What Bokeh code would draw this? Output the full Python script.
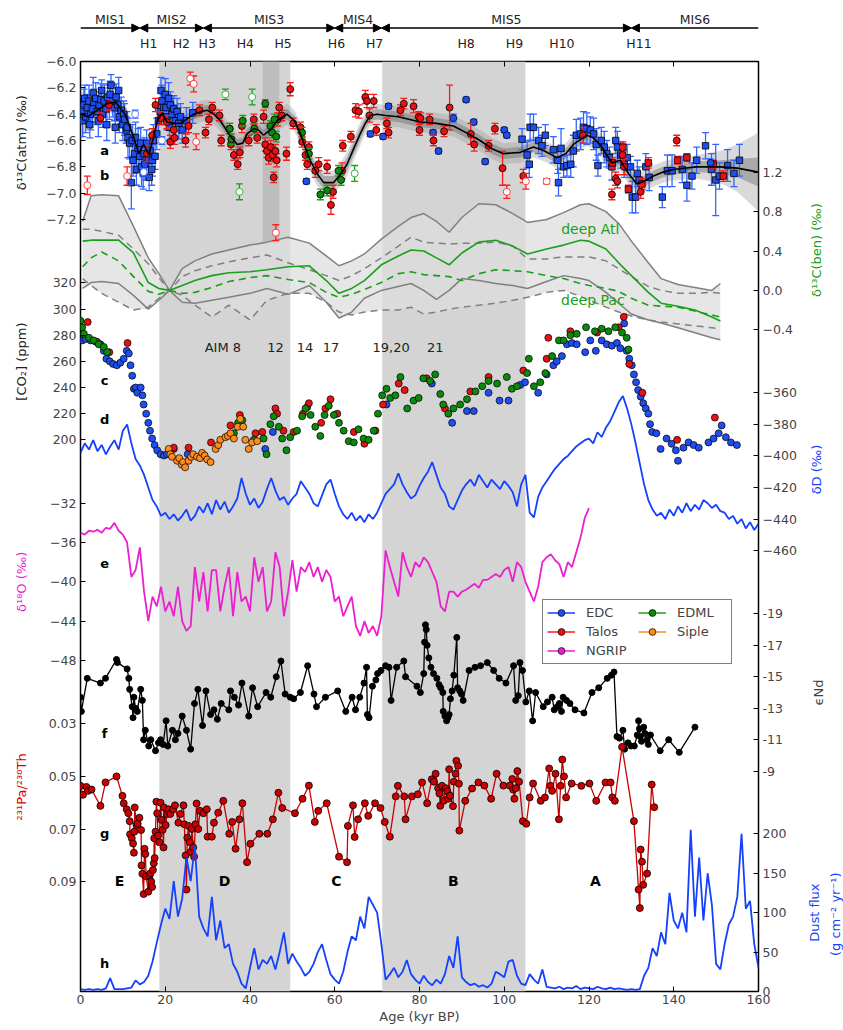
import numpy as np
from math import pi
from bokeh.plotting import figure
from bokeh.layouts import column, row
from bokeh.models import (Range1d, LinearAxis, FixedTicker, BoxAnnotation,
                          Arrow, NormalHead, Legend, LegendItem)
from bokeh.core.properties import value
from bokeh.embed import file_html
from bokeh.resources import INLINE

FONT = "DejaVu Sans"
BLUE = "#1440ff"
BLUE_F = "#1f4ef0"
BLUE_E = "#3366ff"
RED = "#ff1a1a"
RED_F = "#e81010"
GREEN_F = "#0a8a0a"
GREEN_E = "#1aa01a"
GREEN_L = "#1a9f1a"
MAGENTA = "#ec1fcf"
ORANGE = "#ff8c1a"
DKRED = "#cc0000"
GRAY = "#808080"

# ---------------- data ----------------
age_ticks = [0, 20, 40, 60, 80, 100, 120, 140, 160]
mis_bounds = [0, 14, 29, 60, 71, 130, 160]
mis_names = ["MIS1", "MIS2", "MIS3", "MIS4", "MIS5", "MIS6"]
h_ages = [16.1, 23.8, 29.9, 38.9, 47.8, 60.4, 69.4, 91.0, 102.4, 113.6, 131.8]
h_names = ["H1", "H2", "H3", "H4", "H5", "H6", "H7", "H8", "H9", "H10", "H11"]
stadials = [(18.6, 49.5), (71.2, 105.0)]
h4_box = (43.0, 46.9, -7.38)

# (a) d13C atm : EDC squares
sq_x = [0.3, 0.5, 0.8, 1.0, 1.2, 1.6, 2.0, 2.2, 2.4, 2.8,
        3.0, 3.2, 3.6, 4.0, 4.2, 4.4, 4.8, 5.0, 5.2, 5.6,
        6.0, 6.2, 6.4, 6.8, 7.0, 7.2, 7.6, 8.0, 8.2, 8.4,
        8.8, 9.0, 9.2, 9.6, 10.0, 10.2, 10.4, 10.8, 11.0, 11.2,
        11.6, 12.0, 12.2, 12.4, 12.8, 13.0, 13.2, 13.6, 14.0, 14.2,
        14.4, 14.8, 15.0, 15.2, 15.6, 16.0, 16.2, 16.4, 16.8, 17.0,
        17.2, 17.6, 18.0, 18.4, 18.8, 19.0, 19.2, 19.6, 20.0, 20.2,
        20.4, 20.8, 21.0, 21.2, 21.6, 22.0, 22.4, 22.8, 23.2, 23.6,
        24.0, 25.0, 26.5,
        104.2, 105.4, 105.9, 106.1, 106.9, 108.1, 108.9, 109.7, 111.6, 112.6,
        112.8, 113.4, 114.0, 114.8, 115.7, 116.3, 117.0, 118.0, 118.7, 119.5,
        120.3, 121.1, 121.7, 122.1, 122.9, 123.6, 124.2, 124.8, 125.4, 126.3,
        126.7, 127.5, 128.3, 129.0, 129.8, 130.2, 131.0, 131.4, 131.8, 133.4,
        134.2, 137.3, 138.5, 139.6, 142.0, 143.1, 144.3, 145.4, 147.5, 148.9,
        149.9, 150.8, 152.7, 154.2, 155.5]
sq_y = [-6.37, -6.45, -6.33, -6.28, -6.42, -6.35, -6.30, -6.48, -6.40, -6.36,
        -6.24, -6.31, -6.28, -6.38, -6.45, -6.33, -6.29, -6.22, -6.40, -6.30,
        -6.36, -6.48, -6.27, -6.32, -6.25, -6.18, -6.30, -6.35, -6.50, -6.27,
        -6.33, -6.22, -6.42, -6.37, -6.48, -6.40, -6.44, -6.52, -6.50, -6.58,
        -6.62, -6.92, -6.60, -6.75, -6.70, -6.58, -6.82, -6.66, -6.72, -6.62,
        -6.80, -6.85, -6.70, -6.78, -6.62, -6.74, -6.88, -6.68, -6.82, -6.75,
        -6.60, -6.72, -6.55, -6.45, -6.38, -6.22, -6.30, -6.35, -6.25, -6.35,
        -6.42, -6.28, -6.50, -6.33, -6.40, -6.36, -6.45, -6.38, -6.47, -6.42,
        -6.52, -6.45, -6.39,
        -6.59, -6.71, -6.78, -6.50, -6.50, -6.60, -6.64, -6.56, -6.67, -6.75,
        -6.92, -6.66, -6.80, -6.79, -6.78, -6.68, -6.56, -6.55, -6.50, -6.51,
        -6.52, -6.55, -6.63, -6.79, -6.60, -6.65, -6.70, -6.73, -6.80, -6.60,
        -6.65, -6.71, -6.78, -6.73, -6.80, -7.03, -7.03, -6.85, -6.90, -6.80,
        -6.88, -7.03, -6.83, -6.83, -6.82, -6.94, -6.87, -6.75, -6.64, -6.82,
        -6.90, -6.87, -6.79, -6.85, -6.75]
sq_e = [.10, .12, .12, .10, .12, .10, .12, .10, .12, .10,
        .12, .10, .12, .10, .12, .10, .12, .08, .10, .12,
        .10, .12, .10, .12, .10, .08, .12, .10, .12, .10,
        .12, .10, .12, .10, .12, .10, .12, .10, .12, .15,
        .12, .20, .12, .12, .15, .12, .12, .15, .12, .12,
        .15, .12, .12, .12, .10, .12, .10, .10, .12, .12,
        .12, .10, .12, .12, .10, .10, .12, .10, .12, .10,
        .10, .12, .10, .10, .12, .10, .12, .10, .12, .10,
        .10, .10, .08,
        .08, .10, .10, .10, .10, .10, .08, .08, .10, .10,
        .10, .15, .08, .08, .10, .12, .12, .12, .12, .12,
        .10, .12, .12, .08, .10, .12, .10, .08, .10, .10,
        .12, .10, .10, .10, .08, .12, .12, .10, .10, .10,
        .10, .08, .12, .12, .10, .12, .10, .10, .10, .12,
        .27, .10, .12, .10, .12]

# blue circles
bc_x = [53.3, 68.4, 71.4, 72.7, 83.2, 84.5, 88.0, 91.0, 92.8, 95.5, 100.0, 100.6, 148.7]
bc_y = [-6.91, -6.55, -6.57, -6.34, -6.54, -6.68, -6.43, -6.29, -6.46, -6.76, -6.52, -6.56, -6.77]
bc_e = [.02, .02, .02, .02, .02, .02, .03, .02, .02, .02, .02, .02, .03]

# Talos red circles
rc_x = [4.7, 6.7, 15.7, 16.9, 17.7, 18.9, 20.4, 21.2, 22.0, 22.2,
        24.8, 25.5, 28.1, 29.5, 30.3, 31.1, 32.8, 33.2, 35.2, 35.5,
        36.2, 37.1, 37.6, 38.1, 39.7, 40.9, 41.7, 43.2, 43.6, 44.0,
        44.4, 44.9, 45.3, 45.6, 46.0, 46.3, 46.5, 46.9, 47.5, 48.6,
        49.5, 50.2, 51.9, 52.3, 53.1, 53.5, 53.9, 55.4, 56.2, 58.2,
        59.1, 59.6, 61.7, 61.9, 63.8, 64.9, 65.7, 67.2, 67.6, 68.2,
        69.2, 69.8, 72.3, 72.7, 75.5, 76.3, 78.6, 79.8, 80.0, 80.2,
        82.4, 83.3, 85.8, 87.1, 92.1, 92.9, 96.3, 97.8, 99.6, 104.5,
        118.6, 125.4, 126.3, 126.7, 127.9, 128.3, 132.2, 140.7]
rc_y = [-6.43, -6.33, -6.70, -6.56, -6.33, -6.43, -6.46, -6.61, -6.52, -6.58,
        -6.60, -6.49, -6.37, -6.54, -6.44, -6.35, -6.41, -6.60, -6.51, -6.63,
        -6.71, -6.78, -6.69, -6.49, -6.60, -6.44, -6.58, -6.42, -6.63, -6.68,
        -6.73, -6.65, -6.71, -6.88, -6.68, -6.75, -6.44, -6.35, -6.41, -6.70,
        -6.21, -6.47, -6.50, -6.61, -6.71, -6.78, -6.65, -6.83, -6.78, -6.80,
        -7.09, -6.99, -6.83, -6.64, -6.57, -6.37, -6.38, -6.27, -6.30, -6.41,
        -6.30, -6.52, -6.47, -6.54, -6.37, -6.32, -6.34, -6.42, -6.52, -6.43,
        -6.44, -6.60, -6.53, -6.35, -6.55, -6.63, -6.64, -6.51, -6.81, -6.87,
        -6.56, -7.01, -6.89, -6.91, -6.71, -6.80, -6.99, -6.60]
rc_e = [.04, .04, .06, .05, .05, .05, .05, .05, .05, .05,
        .05, .05, .04, .04, .04, .04, .04, .04, .04, .04,
        .04, .04, .04, .05, .04, .04, .04, .05, .05, .05,
        .05, .05, .05, .04, .05, .05, .05, .04, .04, .05,
        .05, .04, .04, .04, .04, .04, .04, .05, .05, .05,
        .07, .05, .06, .04, .04, .05, .05, .05, .05, .05,
        .05, .04, .04, .04, .04, .04, .05, .04, .04, .04,
        .04, .04, .04, .17, .08, .05, .04, .04, .13, .05,
        .06, .04, .05, .05, .06, .06, .05, .04]

# Talos red squares
rs_x = [125.5, 128.0, 129.3, 132.5, 134.0, 140.9, 143.1, 149.3, 151.7]
rs_y = [-6.77, -6.65, -6.97, -6.93, -6.77, -6.75, -6.73, -6.78, -6.87]
rs_e = [.04, .04, .03, .04, .04, .03, .03, .03, .04]

# EDML green circles
gc_x = [35.2, 35.6, 38.3, 41.0, 43.6, 44.8, 45.2, 45.8, 46.2, 52.3, 53.9, 56.6, 58.2, 60.9, 61.5]
gc_y = [-6.51, -6.59, -6.45, -6.51, -6.32, -6.49, -6.54, -6.44, -6.57, -6.54, -6.70, -7.01, -6.98, -6.83, -6.90]
gc_e = [.04, .04, .04, .04, .03, .04, .04, .04, .04, .04, .04, .04, .04, .04, .04]

# rejected (open) points
or_x = [1.6, 11.0, 25.9, 26.7, 27.3, 46.1, 100.6, 105.1, 110.0]
or_y = [-6.94, -6.87, -6.13, -6.17, -6.61, -7.30, -6.99, -6.91, -6.91]
or_e = [.07, .07, .05, .06, .06, .06, .05, .06, .02]
og_x = [34.2, 37.5, 40.5, 64.7]
og_y = [-6.25, -6.99, -6.27, -6.85]
og_e = [.04, .06, .06, .06]
ob_x = [12.9, 14.9, 19.2]
ob_y = [-6.40, -6.84, -6.60]
ob_e = [.03, .03, .03]

# spline through d13C atm with 1 and 2 sigma half widths
spl_x = [0, 1.6, 4, 6.3, 8.3, 10.5, 12.6, 13.8, 14.9, 16.1,
         17.2, 18.1, 19.3, 20.4, 22, 23.6, 25, 26.7, 28.5, 29.9,
         31.5, 33, 35, 37, 38.3, 39.3, 40.9, 42, 43.2, 44.8,
         46.4, 48.7, 50.5, 51.9, 53, 54.2, 55.8, 57.4, 59.7, 61.3,
         62.9, 64.5, 66, 67.2, 68.4, 70, 72, 75, 80.2, 84,
         88, 91, 94.3, 97, 99.8, 103.8, 106.9, 109.5, 112.4, 114.5,
         116.3, 119.5, 121, 122.6, 125.4, 127.4, 129.3, 131.3, 133, 135.2,
         137.5, 139.9, 145.4, 150.9, 155, 160]
spl_y = [-6.40, -6.42, -6.37, -6.32, -6.31, -6.40, -6.58, -6.70, -6.63, -6.71,
         -6.58, -6.45, -6.39, -6.46, -6.47, -6.47, -6.44, -6.40, -6.38, -6.37,
         -6.40, -6.45, -6.55, -6.63, -6.62, -6.55, -6.51, -6.52, -6.56, -6.52,
         -6.45, -6.40, -6.45, -6.55, -6.65, -6.75, -6.85, -6.92, -6.92, -6.86,
         -6.78, -6.66, -6.55, -6.47, -6.41, -6.40, -6.41, -6.42, -6.46, -6.47,
         -6.49, -6.54, -6.60, -6.66, -6.70, -6.69, -6.65, -6.68, -6.73, -6.70,
         -6.63, -6.56, -6.58, -6.63, -6.77, -6.75, -6.85, -6.93, -6.91, -6.87,
         -6.84, -6.82, -6.80, -6.80, -6.81, -6.84]
spl_s1 = [.07, .05, .04, .04, .04, .04, .04, .04, .04, .04,
          .04, .04, .04, .04, .04, .04, .04, .04, .04, .04,
          .04, .04, .04, .04, .04, .04, .04, .04, .04, .04,
          .04, .04, .04, .04, .05, .05, .05, .05, .05, .05,
          .05, .05, .05, .04, .04, .04, .04, .04, .04, .04,
          .04, .04, .04, .04, .04, .04, .04, .04, .04, .04,
          .04, .04, .04, .04, .04, .04, .04, .04, .04, .04,
          .04, .04, .04, .05, .07, .11]
spl_s2 = [.20, .10, .08, .08, .08, .08, .08, .08, .08, .08,
          .08, .08, .08, .08, .08, .08, .08, .08, .08, .08,
          .08, .08, .08, .08, .08, .08, .08, .08, .08, .08,
          .08, .08, .08, .08, .09, .09, .09, .09, .09, .09,
          .09, .09, .09, .08, .08, .08, .08, .08, .08, .08,
          .08, .08, .08, .08, .08, .08, .08, .08, .08, .08,
          .08, .08, .08, .08, .08, .08, .08, .08, .08, .08,
          .08, .08, .09, .12, .18, .30]

# (b) benthic d13C stacks
ben_x = [0.5, 2.5, 5, 9, 12.5, 16, 18.5, 21, 24, 27,
         31, 35, 40, 44, 49, 54, 58, 61, 64, 67,
         71, 75, 78, 81, 84, 87, 90, 94, 98, 102,
         105.5, 110, 114, 118, 120, 124, 127, 130, 134, 137,
         141, 145, 149, 151]
atl_hi = [0.70, 0.96, 0.97, 0.96, 0.65, 0.33, 0.17, 0.00, 0.22, 0.30,
          0.37, 0.41, 0.46, 0.49, 0.54, 0.48, 0.35, 0.25, 0.30, 0.37,
          0.52, 0.65, 0.74, 0.78, 0.70, 0.59, 0.74, 0.88, 0.87, 0.78,
          0.69, 0.72, 0.79, 0.87, 0.88, 0.80, 0.68, 0.50, 0.28, 0.12,
          0.06, 0.03, 0.00, 0.07]
atl_mid = [0.50, 0.51, 0.51, 0.51, 0.38, 0.08, 0.02, 0.00, 0.05, 0.10,
           0.15, 0.18, 0.19, 0.21, 0.24, 0.25, 0.10, -0.03, 0.02, 0.10,
           0.26, 0.35, 0.41, 0.40, 0.33, 0.26, 0.38, 0.49, 0.51, 0.45,
           0.37, 0.42, 0.46, 0.51, 0.50, 0.42, 0.28, 0.15, -0.02, -0.13,
           -0.16, -0.20, -0.27, -0.31]
atl_lo = [0.02, 0.08, 0.09, 0.07, -0.05, -0.19, -0.10, 0.00, -0.12, -0.13,
          -0.10, -0.07, -0.03, 0.02, -0.04, 0.05, -0.12, -0.28, -0.22, -0.08,
          0.00, 0.04, 0.07, 0.00, -0.09, 0.00, 0.12, 0.10, 0.07, 0.05,
          0.02, 0.09, 0.15, 0.12, 0.10, -0.02, -0.13, -0.24, -0.30, -0.33,
          -0.38, -0.43, -0.48, -0.50]
pac_hi = [0.62, 0.62, 0.60, 0.56, 0.42, 0.27, 0.13, 0.00, 0.14, 0.20,
          0.25, 0.29, 0.33, 0.36, 0.28, 0.21, 0.15, 0.10, 0.15, 0.22,
          0.33, 0.45, 0.54, 0.49, 0.48, 0.47, 0.48, 0.48, 0.49, 0.45,
          0.32, 0.32, 0.34, 0.34, 0.34, 0.30, 0.22, 0.14, 0.04, 0.00,
          -0.03, -0.03, -0.02, -0.03]
pac_mid = [0.24, 0.33, 0.39, 0.30, 0.14, -0.01, -0.04, 0.00, -0.03, -0.02,
           0.03, 0.09, 0.13, 0.15, 0.11, 0.08, -0.02, -0.07, -0.04, 0.01,
           0.08, 0.17, 0.19, 0.16, 0.15, 0.14, 0.10, 0.17, 0.21, 0.20,
           0.19, 0.15, 0.12, 0.07, 0.05, 0.02, -0.01, -0.08, -0.15, -0.16,
           -0.17, -0.21, -0.25, -0.27]
pac_lo = [0.12, 0.05, -0.03, -0.12, -0.20, -0.17, -0.08, 0.00, -0.05, -0.15,
          -0.27, -0.15, -0.30, -0.10, -0.03, -0.03, -0.12, -0.22, -0.25, -0.22,
          -0.20, -0.20, -0.17, -0.24, -0.22, -0.19, -0.17, -0.15, -0.13, -0.10,
          -0.07, -0.02, 0.00, -0.06, -0.10, -0.17, -0.22, -0.26, -0.30, -0.32,
          -0.34, -0.36, -0.38, -0.39]

# (c) CO2
edc_co2_x = [0.4, 1.2, 2.4, 3.6, 4.7, 5.5, 6.1, 6.9, 7.7, 8.6,
             9.4, 10.2, 10.9, 11.4, 11.8, 12.2, 12.6, 13.0, 13.4, 14.2,
             14.6, 14.9, 15.5, 16.0, 16.4, 16.9, 17.5, 18.1, 18.9, 19.7,
             20.4, 21.2, 22.0, 25.3, 43.6, 45.4, 53.5, 72.2, 82.9, 87.7,
             91.2, 92.8, 96.3, 98.9, 101.0, 103.8, 104.9, 108.0, 110.0, 111.6,
             112.4, 113.6, 114.8, 116.0, 117.1, 119.1, 120.3, 121.6, 123.0, 124.2,
             125.4, 126.6, 127.4, 128.3, 128.9, 129.5, 130.1, 130.6, 131.1, 131.6,
             132.2, 132.8, 133.4, 134.0, 134.4, 134.9, 135.9, 136.9, 138.3, 139.5,
             140.5, 141.0, 142.3, 143.5, 144.7, 145.9, 148.2, 149.4, 150.6, 151.3,
             152.3, 153.5, 154.9]
edc_co2 = [276, 277, 276, 275, 273, 268, 262, 260, 258, 257,
           259, 262, 268, 266, 257, 249, 239, 240, 236, 240,
           234, 227, 220, 213, 207, 201, 196, 192, 189, 188,
           189, 192, 193, 189, 193, 206, 225, 227, 243, 213,
           222, 222, 236, 230, 230, 242, 244, 236, 250, 257,
           260, 264, 273, 274, 273, 267, 276, 268, 276, 273,
           272, 274, 270, 289, 268, 262, 257, 250, 244, 238,
           233, 228, 224, 220, 212, 206, 205, 193, 201, 197,
           192, 184, 194, 198, 196, 194, 198, 201, 205, 211,
           202, 198, 196]
tal_co2_x = [1.7, 3.9, 6.8, 11.1, 22.0, 25.5, 30.8, 35.4, 37.6, 41.3,
             42.9, 46.0, 46.4, 47.9, 50.3, 52.5, 53.9, 56.8, 57.8, 59.0,
             60.6, 64.5, 67.0, 69.6, 71.4, 75.1, 76.5, 81.7, 86.0, 92.0,
             96.3, 104.5, 110.0, 110.4, 115.6, 121.9, 127.0, 128.2, 129.5, 132.6,
             140.8, 149.7]
tal_co2 = [290, 275, 267, 274, 194, 194, 198, 211, 219, 205,
           206, 224, 220, 207, 206, 220, 228, 213, 224, 231,
           220, 206, 197, 207, 227, 243, 238, 247, 224, 237,
           248, 253, 262, 278, 283, 282, 286, 294, 258, 236,
           200, 217]
edml_co2_x = [0.0, 0.4, 0.8, 2.0, 3.1, 4.3, 5.5, 6.3, 36.2, 37.2,
              38.2, 40.9, 43.2, 43.9, 44.8, 45.6, 46.8, 47.6, 48.6, 49.5,
              51.1, 52.3, 53.1, 54.3, 55.4, 56.6, 57.6, 58.6, 59.8, 61.0,
              62.1, 63.3, 64.5, 65.6, 66.8, 68.0, 69.2, 70.2, 71.2, 72.2,
              73.1, 74.3, 75.5, 77.1, 78.6, 79.8, 80.9, 82.5, 83.7, 84.9,
              85.6, 86.8, 88.0, 89.6, 91.2, 93.2, 94.8, 96.3, 98.3, 100.6,
              101.8, 103.0, 105.4, 105.8, 107.0, 108.5, 109.7, 111.3, 112.9, 114.0,
              115.6, 117.1, 119.3, 121.4, 123.0, 124.6, 126.2, 127.8, 128.9, 129.3]
edml_co2 = [291, 286, 281, 278, 276, 273, 271, 267, 205, 213,
            215, 200, 201, 189, 212, 218, 210, 201, 192, 202,
            207, 218, 224, 219, 210, 203, 219, 226, 219, 213,
            207, 199, 198, 208, 201, 200, 207, 220, 234, 239,
            232, 234, 248, 224, 230, 232, 247, 245, 250, 235,
            227, 220, 224, 227, 231, 237, 241, 245, 243, 248,
            239, 241, 251, 262, 241, 244, 251, 264, 276, 276,
            280, 281, 286, 283, 285, 283, 286, 282, 278, 269]
siple_co2_x = [20.8, 21.2, 21.6, 22.8, 23.3, 23.9, 24.2, 24.7, 25.5, 26.1,
               26.6, 27.5, 28.2, 28.7, 29.3, 29.9, 30.7, 31.9, 32.5, 33.0,
               34.2, 34.8, 35.4, 36.2, 37.1, 37.7, 38.4, 38.9, 39.7, 40.5,
               41.7]
siple_co2 = [193, 189, 187, 184, 186, 181, 183, 179, 184, 187,
             189, 187, 186, 190, 188, 185, 183, 193, 196, 200,
             202, 203, 205, 201, 210, 216, 210, 200, 193, 198,
             199]

# (d) EDC dD, 1 kyr steps
dD_age = list(range(0, 161))
dD = [-398, -392, -396, -390, -397, -393, -399, -394, -390, -396,
      -384, -380, -392, -402, -406, -412, -420, -428, -432, -438,
      -436, -440, -437, -441, -438, -434, -441, -438, -432, -436,
      -430, -437, -428, -434, -429, -436, -432, -427, -414, -424,
      -431, -427, -433, -429, -421, -414, -422, -428, -426, -431,
      -427, -424, -416, -420, -424, -430, -432, -425, -418, -415,
      -424, -432, -437, -440, -436, -441, -438, -442, -437, -440,
      -436, -430, -424, -421, -418, -411, -418, -423, -427, -425,
      -419, -414, -410, -404, -412, -420, -424, -432, -434, -428,
      -422, -418, -415, -419, -412, -416, -420, -415, -418, -421,
      -416, -419, -423, -432, -418, -412, -436, -439, -426, -420,
      -416, -412, -408, -405, -402, -400, -397, -394, -392, -390,
      -389, -392, -385, -388, -382, -378, -372, -366, -362, -370,
      -380, -392, -405, -418, -428, -434, -438, -436, -440, -434,
      -438, -432, -436, -430, -435, -431, -434, -428, -430, -433,
      -431, -435, -436, -440, -438, -443, -440, -446, -442, -447,
      -443]

# (e) NGRIP d18O, 1 kyr steps
ng_age = list(range(0, 121))
ng = [-35.0, -35.2, -34.8, -34.9, -34.7, -35.0, -34.5, -34.6, -34.0, -34.8,
      -35.2, -36.0, -39.5, -38.8, -36.5, -41.0, -44.0, -41.5, -42.5, -40.5,
      -43.0, -42.0, -43.5, -40.5, -44.0, -45.0, -44.5, -38.5, -42.0, -39.0,
      -43.0, -38.8, -38.8, -43.0, -40.5, -38.5, -43.5, -39.0, -42.0, -41.5,
      -43.0, -37.5, -40.0, -38.5, -43.0, -42.0, -37.0, -38.5, -43.5, -41.0,
      -37.8, -41.0, -38.5, -39.0, -38.0, -39.5, -38.5, -40.0, -38.8, -39.5,
      -42.0, -41.5, -43.5, -42.5, -41.5, -44.5, -45.5, -44.0, -45.2, -44.5,
      -45.5, -43.5, -36.8, -38.5, -40.0, -41.5, -37.0, -38.5, -39.5, -38.0,
      -38.5, -37.5, -38.0, -39.0, -40.0, -42.5, -43.0, -41.0, -41.0, -41.5,
      -41.0, -40.8, -40.5, -40.2, -40.6, -39.8, -39.8, -39.5, -39.2, -39.5,
      -38.8, -38.5, -40.0, -38.0, -38.5, -40.0, -41.0, -42.0, -40.5, -38.0,
      -37.5, -37.2, -37.8, -38.2, -39.5, -38.0, -38.5, -37.0, -35.5, -33.5,
      -32.5]

# (f) eNd
end_x = [0.0, 0.2, 1.6, 4.7, 5.9, 8.5, 8.7, 11.0, 11.4, 11.6,
         12.2, 12.4, 12.6, 13.0, 13.4, 14.2, 14.6, 14.9, 15.3, 16.1,
         16.6, 17.7, 18.4, 18.9, 19.5, 20.2, 20.6, 21.7, 22.4, 23.0,
         24.0, 25.0, 26.0, 26.9, 27.7, 28.8, 29.6, 30.7, 31.5, 32.3,
         33.2, 35.0, 35.4, 36.3, 37.3, 38.1, 39.7, 40.6, 41.8, 43.8,
         44.9, 46.2, 47.3, 48.3, 49.5, 50.3, 51.9, 53.6, 55.1, 55.7,
         57.8, 60.7, 62.6, 64.1, 64.9, 65.9, 66.9, 67.5, 67.7, 68.1,
         68.9, 69.7, 70.1, 70.9, 72.0, 72.8, 73.3, 74.6, 76.3, 76.7,
         79.4, 80.2, 81.0, 81.2, 81.4, 81.6, 81.8, 82.2, 82.7, 83.3,
         84.1, 84.6, 85.0, 85.5, 85.6, 86.0, 86.4, 86.7, 87.0, 87.3,
         87.7, 88.1, 88.8, 89.0, 89.5, 89.9, 90.3, 91.7, 93.1, 94.4,
         96.0, 97.5, 98.8, 100.4, 102.2, 102.7, 103.3, 103.7, 104.3, 105.1,
         105.9, 106.7, 107.4, 109.2, 110.2, 111.3, 111.8, 112.5, 113.0, 113.5,
         113.9, 114.7, 115.5, 116.7, 118.8, 120.7, 122.3, 124.3, 125.3, 125.9,
         126.6, 127.2, 128.0, 128.4, 129.2, 129.9, 130.7, 131.4, 131.7, 131.9,
         132.1, 132.4, 132.9, 133.2, 133.7, 134.0, 134.5, 136.8, 138.8, 141.3,
         145.0]
end_v = [-13.7, -12.8, -14.9, -14.6, -14.9, -16.1, -15.9, -15.5, -14.9, -14.2,
         -13.1, -12.4, -13.7, -13.0, -12.8, -14.2, -13.5, -11.0, -11.6, -10.6,
         -11.0, -10.3, -10.8, -11.0, -10.7, -12.2, -10.6, -11.6, -11.0, -11.4,
         -12.5, -11.6, -10.4, -13.3, -14.2, -11.9, -14.1, -12.6, -12.9, -12.3,
         -13.3, -12.9, -14.1, -13.7, -13.2, -14.6, -12.5, -14.3, -13.1, -14.0,
         -13.7, -15.0, -16.0, -13.9, -13.7, -13.6, -14.0, -15.7, -13.9, -13.1,
         -13.7, -14.1, -12.8, -13.7, -12.9, -13.7, -14.6, -15.6, -12.6, -12.4,
         -14.4, -14.8, -15.2, -15.4, -15.7, -15.6, -13.5, -15.6, -16.0, -15.0,
         -14.4, -14.0, -15.2, -17.2, -18.3, -18.0, -17.0, -16.2, -15.6, -15.2,
         -14.9, -14.5, -14.3, -14.0, -12.8, -12.5, -12.2, -12.4, -12.6, -13.6,
         -14.1, -15.1, -17.5, -14.3, -14.1, -13.9, -13.5, -15.4, -15.6, -15.7,
         -15.9, -15.4, -14.9, -14.6, -15.7, -13.5, -13.8, -15.9, -15.4, -13.4,
         -14.1, -12.2, -14.0, -13.1, -13.4, -13.7, -12.9, -13.1, -13.3, -12.8,
         -13.7, -13.5, -13.3, -12.9, -12.7, -14.0, -14.3, -14.9, -15.1, -15.3,
         -11.2, -11.1, -11.6, -10.4, -10.8, -10.6, -10.6, -11.3, -12.2, -11.7,
         -11.2, -10.9, -11.8, -11.4, -11.0, -10.7, -11.3, -10.3, -11.0, -10.2,
         -11.8]

# (g) 231Pa/230Th
pa_x = [0.0, 0.6, 1.4, 1.8, 2.6, 4.7, 5.9, 8.5, 9.9, 10.2,
        10.9, 11.3, 11.6, 11.7, 12.1, 12.4, 12.6, 12.7, 12.8, 13.2,
        13.5, 13.9, 14.3, 14.4, 14.6, 14.9, 15.1, 15.3, 15.5, 16.0,
        16.2, 16.5, 16.7, 16.9, 17.1, 17.3, 17.4, 17.5, 17.7, 17.9,
        18.1, 18.3, 18.6, 18.9, 19.1, 19.4, 19.6, 19.7, 20.1, 20.4,
        20.8, 21.2, 21.9, 22.3, 23.1, 23.6, 24.3, 24.5, 24.8, 25.0,
        25.2, 25.5, 25.8, 26.0, 26.3, 26.6, 26.8, 27.1, 27.4, 27.8,
        28.2, 29.0, 29.8, 30.0, 31.0, 31.5, 32.5, 33.7, 35.1, 35.8,
        36.6, 37.5, 38.2, 39.3, 40.1, 42.2, 44.1, 45.4, 46.7, 47.6,
        50.6, 52.4, 53.9, 55.3, 56.1, 58.1, 61.0, 62.9, 63.1, 64.3,
        64.7, 65.5, 67.1, 67.9, 69.5, 70.8, 71.8, 73.0, 74.4, 74.9,
        76.4, 76.7, 78.2, 79.6, 80.6, 81.8, 82.9, 83.4, 83.8, 84.4,
        84.7, 84.9, 85.3, 85.7, 86.2, 86.6, 86.8, 87.0, 87.2, 87.9,
        88.1, 88.5, 88.7, 89.1, 89.3, 89.4, 90.8, 92.4, 93.9, 95.3,
        96.9, 98.2, 99.8, 101.3, 101.9, 102.1, 102.4, 102.7, 103.1, 103.5,
        104.4, 105.2, 106.0, 106.8, 108.6, 109.6, 110.6, 110.9, 111.3, 112.1,
        112.9, 113.3, 113.7, 114.1, 114.6, 115.9, 118.2, 120.1, 121.7, 123.9,
        125.1, 125.5, 126.1, 127.8, 130.6, 131.7, 132.0, 132.2, 132.5, 132.8,
        133.7, 134.8, 135.4]
pa_v = [0.0536, 0.0570, 0.0540, 0.0555, 0.0550, 0.0612, 0.0523, 0.0500, 0.0574, 0.0602,
        0.0625, 0.0640, 0.0670, 0.0720, 0.0735, 0.0755, 0.0790, 0.0710, 0.0618, 0.0685,
        0.0680, 0.0657, 0.0704, 0.0838, 0.0870, 0.0947, 0.0775, 0.0795, 0.0880, 0.0938,
        0.0876, 0.0868, 0.0900, 0.0920, 0.0856, 0.0830, 0.0735, 0.0810, 0.0710, 0.0596,
        0.0640, 0.0725, 0.0750, 0.0600, 0.0665, 0.0703, 0.0770, 0.0618, 0.0685, 0.0643,
        0.0625, 0.0643, 0.0625, 0.0610, 0.0676, 0.0643, 0.0610, 0.0682, 0.0800, 0.0930,
        0.0733, 0.0688, 0.0750, 0.0787, 0.0700, 0.0770, 0.0805, 0.0682, 0.0603, 0.0700,
        0.0631, 0.0640, 0.0625, 0.0729, 0.0729, 0.0676, 0.0638, 0.0593, 0.0718, 0.0673,
        0.0775, 0.0663, 0.0602, 0.0826, 0.0756, 0.0718, 0.0718, 0.0663, 0.0562, 0.0620,
        0.0640, 0.0585, 0.0535, 0.0673, 0.0631, 0.0602, 0.0805, 0.0826, 0.0688, 0.0610,
        0.0730, 0.0663, 0.0602, 0.0650, 0.0602, 0.0620, 0.0673, 0.0729, 0.0576, 0.0536,
        0.0576, 0.0663, 0.0576, 0.0568, 0.0523, 0.0602, 0.0511, 0.0520, 0.0490, 0.0545,
        0.0565, 0.0612, 0.0536, 0.0593, 0.0545, 0.0557, 0.0585, 0.0473, 0.0573, 0.0613,
        0.0520, 0.0490, 0.0441, 0.0460, 0.0528, 0.0706, 0.0593, 0.0546, 0.0523, 0.0535,
        0.0585, 0.0490, 0.0535, 0.0535, 0.0510, 0.0550, 0.0585, 0.0545, 0.0480, 0.0520,
        0.0670, 0.0680, 0.0580, 0.0527, 0.0593, 0.0580, 0.0470, 0.0536, 0.0555, 0.0490,
        0.0663, 0.0536, 0.0436, 0.0500, 0.0580, 0.0527, 0.0536, 0.0527, 0.0593, 0.0523,
        0.0523, 0.0580, 0.0593, 0.0388, 0.0670, 0.0930, 0.1000, 0.0778, 0.0824, 0.0912,
        0.0869, 0.0531, 0.0617]

# (h) EDC dust flux, 1 kyr steps
dust_age = list(range(0, 161))
dust = [3, 2, 3, 2, 3, 2, 4, 17, 3, 3,
        3, 4, 5, 14, 9, 12, 20, 38, 62, 85,
        105, 92, 140, 95, 118, 170, 140, 185, 95, 80,
        70, 120, 65, 90, 55, 60, 35, 25, 10, 4,
        30, 55, 28, 40, 35, 45, 28, 50, 75, 35,
        48, 38, 30, 20, 25, 35, 50, 60, 40, 22,
        15, 10, 25, 50, 70, 65, 95, 80, 120, 110,
        100, 60, 15, 22, 30, 18, 25, 40, 22, 15,
        10, 20, 12, 8, 15, 10, 22, 45, 30, 70,
        18, 12, 8, 10, 6, 8, 5, 10, 25, 22,
        18, 38, 40, 20, 10, 8, 22, 15, 10, 28,
        6, 5, 4, 6, 3, 5, 4, 7, 3, 5,
        4, 3, 6, 4, 3, 5, 3, 4, 3, 2,
        3, 2, 3, 20, 30, 55, 45, 75, 60, 125,
        90, 80, 100, 75, 205, 95, 170, 90, 150, 110,
        35, 28, 60, 85, 95, 120, 200, 105, 115, 60,
        30]

# axis ticks / labels
atm_ticks = [-6.0, -6.2, -6.4, -6.6, -6.8, -7.0, -7.2]
atm_labels = ["\u22126.0", "\u22126.2", "\u22126.4", "\u22126.6", "\u22126.8", "\u22127.0", "\u22127.2"]
co2_ticks = [200, 220, 240, 260, 280, 300, 320]
co2_labels = ["200", "220", "240", "260", "280", "300", "320"]
ng_ticks = [-32, -36, -40, -44, -48]
ng_labels = ["\u221232", "\u221236", "\u221240", "\u221244", "\u221248"]
pa_ticks = [0.03, 0.05, 0.07, 0.09]
pa_labels = ["0.03", "0.05", "0.07", "0.09"]
ben_ticks = [1.2, 0.8, 0.4, 0.0, -0.4]
ben_labels = ["1.2", "0.8", "0.4", "0.0", "\u22120.4"]
dD_ticks = [-360, -380, -400, -420, -440, -460]
dD_labels = ["\u2212360", "\u2212380", "\u2212400", "\u2212420", "\u2212440", "\u2212460"]
end_ticks = [-19, -17, -15, -13, -11, -9]
end_labels = ["-19", "-17", "-15", "-13", "-11", "-9"]
dust_ticks = [0, 50, 100, 150, 200]
dust_labels = ["0", "50", "100", "150", "200"]

# side titles: (panel, value at centre, text, colour)
left_titles = [("atm", -6.616, "\u03b4\u00b9\u00b3C(atm) (\u2030)", "#222222"),
               ("co2", 259.8, "[CO\u2082] (ppm)", "#222222"),
               ("ng", -40.0, "\u03b4\u00b9\u2078O (\u2030)", MAGENTA),
               ("pa", 0.054, "\u00b2\u00b3\u00b9Pa/\u00b2\u00b3\u2070Th", "#e00000")]
right_titles = [("ben", 0.41, "\u03b4\u00b9\u00b3C(ben) (\u2030)", GREEN_L, 16),
                ("dD", -408.6, "\u03b4D (\u2030)", BLUE, 16),
                ("end", -14.0, "\u03f5Nd", "#404040", 18),
                ("dust", 100.0, "Dust flux", BLUE, 14),
                ("dust", 98.0, "(g cm\u207b\u00b2 yr\u207b\u00b9)", BLUE, 35)]

# ---------------- scales ----------------
FH = 930.0
rng = {
    "atm": (-13.063, -6.0),
    "ben": (-7.118, 2.324),
    "co2": (-221.7, 489.2),
    "dD": (-739.6, -149.9),
    "ng": (-81.67, 12.93),
    "end": (4.996, -54.09),
    "pa": (0.1317, -0.2215),
    "dust": (0.0, 1179.5),
}


def to_frame(v, key):
    s, e = rng[key]
    return (v - s) / (e - s) * FH


x_rng = Range1d(0, 160)
TOP_H = 50
MAIN_H = 980
B_TOP = 11
B_BOT = 39


def strip(width, height, x_range, y_range, **kw):
    f = figure(width=width, height=height, x_range=x_range, y_range=y_range,
               output_backend="svg", toolbar_location=None,
               x_axis_location=None, y_axis_location=None, **kw)
    f.outline_line_color = None
    f.xgrid.visible = False
    f.ygrid.visible = False
    return f


# ---------------- MIS strip ----------------
t = strip(843, TOP_H, x_rng, Range1d(TOP_H, 0),
          min_border_left=80, min_border_right=85, min_border_top=0, min_border_bottom=0)
for a, b in zip(mis_bounds[:-1], mis_bounds[1:]):
    hs = NormalHead(size=8, fill_color="black", line_color="black") if a > mis_bounds[0] else None
    he = NormalHead(size=8, fill_color="black", line_color="black") if b < mis_bounds[-1] else None
    t.add_layout(Arrow(x_start=a, y_start=27.5, x_end=b, y_end=27.5, start=hs, end=he,
                       line_width=1.3, line_color="black"))
mis_mid = [(a + b) / 2 for a, b in zip(mis_bounds[:-1], mis_bounds[1:])]
t.text(x=mis_mid, y=[19] * len(mis_mid), text=mis_names, text_font=value(FONT),
       text_font_size="12.5px", text_align="center", text_baseline="middle", text_color="#222222")
t.text(x=h_ages, y=[43] * len(h_ages), text=h_names, text_font=value(FONT),
       text_font_size="12.5px", text_align="center", text_baseline="middle", text_color="#222222")

# ---------------- side strips with axis titles ----------------
ls = strip(40, MAIN_H, Range1d(0, 40), Range1d(0, FH),
           min_border_left=0, min_border_right=0, min_border_top=B_TOP, min_border_bottom=B_BOT)
ls.text(x=[21] * len(left_titles), y=[to_frame(v, k) for k, v, s, c in left_titles],
        text=[s for k, v, s, c in left_titles], text_color=[c for k, v, s, c in left_titles],
        angle=pi / 2, text_font=value(FONT), text_font_size="13px",
        text_align="center", text_baseline="middle")
rs = strip(43, MAIN_H, Range1d(0, 43), Range1d(0, FH),
           min_border_left=0, min_border_right=0, min_border_top=B_TOP, min_border_bottom=B_BOT)
rs.text(x=[xx for k, v, s, c, xx in right_titles],
        y=[to_frame(v, k) for k, v, s, c, xx in right_titles],
        text=[s for k, v, s, c, xx in right_titles], text_color=[c for k, v, s, c, xx in right_titles],
        angle=pi / 2, text_font=value(FONT), text_font_size="13px",
        text_align="center", text_baseline="middle")

# ---------------- main figure ----------------
p = figure(width=760, height=MAIN_H, x_range=x_rng, y_range=Range1d(0, FH),
           output_backend="svg", toolbar_location=None, y_axis_location=None,
           min_border_left=40, min_border_right=42, min_border_top=B_TOP, min_border_bottom=B_BOT)
p.extra_y_ranges = {k: Range1d(start=s, end=e) for k, (s, e) in rng.items()}
p.xgrid.visible = False
p.ygrid.visible = False
p.outline_line_color = "black"
p.outline_line_width = 1.5
p.background_fill_color = "white"

bx = p.below[0]
bx.ticker = FixedTicker(ticks=age_ticks)
bx.major_tick_in = 5
bx.major_tick_out = 0
bx.minor_tick_line_color = None
bx.axis_line_color = None
bx.axis_label = "Age (kyr BP)"
bx.axis_label_text_font = FONT
bx.axis_label_text_font_style = "normal"
bx.axis_label_text_font_size = "13px"
bx.axis_label_standoff = 2
bx.major_label_text_font = FONT
bx.major_label_text_font_size = "12.5px"
bx.major_label_standoff = 3

top_ax = LinearAxis(ticker=FixedTicker(ticks=age_ticks), major_tick_in=5, major_tick_out=0,
                    minor_tick_line_color=None, axis_line_color=None,
                    major_label_text_font_size="1px", major_label_text_color=None,
                    major_label_standoff=0)
p.add_layout(top_ax, "above")


def tick_set(groups):
    ticks, labels = [], {}
    for key, vals, labs in groups:
        for v, s in zip(vals, labs):
            y = to_frame(v, key)
            ticks.append(y)
            labels[y] = s
    return ticks, labels


lt, ll = tick_set([("atm", atm_ticks, atm_labels), ("co2", co2_ticks, co2_labels),
                   ("ng", ng_ticks, ng_labels), ("pa", pa_ticks, pa_labels)])
rt, rl = tick_set([("ben", ben_ticks, ben_labels), ("dD", dD_ticks, dD_labels),
                   ("end", end_ticks, end_labels), ("dust", dust_ticks, dust_labels)])
for ticks, labels, side in [(lt, ll, "left"), (rt, rl, "right")]:
    ax = LinearAxis(ticker=FixedTicker(ticks=ticks), major_label_overrides=labels,
                    major_tick_in=5, major_tick_out=0, minor_tick_line_color=None,
                    axis_line_color=None, major_label_text_font=FONT,
                    major_label_text_font_size="12.5px", major_label_standoff=4)
    p.add_layout(ax, side)

# shaded intervals
for a, b in stadials:
    p.add_layout(BoxAnnotation(left=a, right=b, fill_color="#d4d4d4", fill_alpha=1.0,
                               line_color=None, level="underlay"))
p.add_layout(BoxAnnotation(left=h4_box[0], right=h4_box[1], bottom=h4_box[2], y_range_name="atm",
                           fill_color="#bdbdbd", fill_alpha=1.0, line_color=None, level="underlay"))

# (b) benthic envelope
env_hi = np.maximum(atl_hi, pac_hi)
env_lo = np.minimum(atl_lo, pac_lo)
p.varea(x=ben_x, y1=env_lo, y2=env_hi, fill_color="#dedede", fill_alpha=0.75, y_range_name="ben")
for ys in (atl_hi, atl_lo):
    p.line(ben_x, ys, line_color=GRAY, line_width=1.5, y_range_name="ben")
for ys in (pac_hi, pac_lo):
    p.line(ben_x, ys, line_color=GRAY, line_width=1.5, line_dash="7 5", y_range_name="ben")
p.line(ben_x, atl_mid, line_color=GREEN_L, line_width=1.6, y_range_name="ben")
p.line(ben_x, pac_mid, line_color=GREEN_L, line_width=1.6, line_dash="7 5", y_range_name="ben")

# (a) spline envelopes
sy = np.array(spl_y)
p.varea(x=spl_x, y1=sy - np.array(spl_s2), y2=sy + np.array(spl_s2),
        fill_color="#a0a0a0", fill_alpha=0.4, y_range_name="atm")
p.varea(x=spl_x, y1=sy - np.array(spl_s1), y2=sy + np.array(spl_s1),
        fill_color="#646464", fill_alpha=0.4, y_range_name="atm")


def err_pts(x, y, e, face, ecolor, marker="circle", size=7, edge="black"):
    x = np.array(x, dtype=float)
    y = np.array(y, dtype=float)
    e = np.array(e, dtype=float)
    p.segment(x, y - e, x, y + e, line_color=ecolor, line_width=1.3, y_range_name="atm")
    p.scatter(np.r_[x, x], np.r_[y - e, y + e], marker="dash", size=7,
              line_color=ecolor, line_width=1.3, y_range_name="atm")
    return p.scatter(x, y, marker=marker, size=size, fill_color=face, line_color=edge,
                     line_width=0.8, y_range_name="atm")


err_pts(sq_x, sq_y, sq_e, BLUE_F, BLUE_E, marker="square", size=6.5)
err_pts(rs_x, rs_y, rs_e, RED_F, RED, marker="square", size=6.5)
err_pts(bc_x, bc_y, bc_e, BLUE_F, BLUE_E)
err_pts(rc_x, rc_y, rc_e, RED_F, RED)
err_pts(gc_x, gc_y, gc_e, GREEN_F, GREEN_E)
err_pts(or_x, or_y, or_e, "white", RED, edge=RED)
err_pts(og_x, og_y, og_e, "white", GREEN_E, edge=GREEN_E)
err_pts(ob_x, ob_y, ob_e, "white", BLUE_E, edge=BLUE_E)
p.line(spl_x, spl_y, line_color="black", line_width=1.6, y_range_name="atm")

# (c) CO2
for xs, ys, face in [(edc_co2_x, edc_co2, BLUE_F), (tal_co2_x, tal_co2, RED_F),
                     (edml_co2_x, edml_co2, GREEN_F), (siple_co2_x, siple_co2, ORANGE)]:
    p.scatter(xs, ys, size=7, fill_color=face, line_color="black", line_width=0.7,
              y_range_name="co2")

# (d) dD
p.line(dD_age, dD, line_color=BLUE, line_width=1.8, y_range_name="dD")
# (e) NGRIP
p.line(ng_age, ng, line_color=MAGENTA, line_width=1.8, y_range_name="ng")
# (f) eNd
p.line(end_x, end_v, line_color="black", line_width=1.3, y_range_name="end")
p.scatter(end_x, end_v, size=6, fill_color="black", line_color="black", y_range_name="end")
# (g) Pa/Th
p.line(pa_x, pa_v, line_color=DKRED, line_width=1.3, y_range_name="pa")
p.scatter(pa_x, pa_v, size=7, fill_color=DKRED, line_color="black", line_width=0.8,
          y_range_name="pa")
# (h) dust
p.line(dust_age, dust, line_color=BLUE, line_width=1.8, y_range_name="dust")


# in-plot texts
def txt(x, y, s, key, size="13px", color="black", style="normal"):
    p.text(x=x, y=y, text=s, y_range_name=key, text_font=value(FONT), text_font_size=size,
           text_color=color, text_font_style=style, text_align="center", text_baseline="middle")


txt([5.7, 5.7], [-6.676, -6.866], ["a", "b"], "atm", style="bold")
txt([5.7, 5.7], [245.3, 215.5], ["c", "d"], "co2", style="bold")
txt([5.7], [-38.1], ["e"], "ng", style="bold")
txt([5.7], [-11.4], ["f"], "end", style="bold")
txt([5.7], [0.0718], ["g"], "pa", style="bold")
txt([5.7], [35.5], ["h"], "dust", style="bold")
txt([9.2, 34.0, 60.4, 88.0, 121.5], [0.0899] * 5, ["E", "D", "C", "B", "A"], "pa",
    size="14px", style="bold")
txt([33.6, 46.0, 53.0, 59.1, 73.3, 83.7], [270.6] * 6, ["AIM 8", "12", "14", "17", "19,20", "21"],
    "co2", size="13px", color="#222222")
txt([120.3], [0.625], ["deep Atl"], "ben", size="14px", color=GREEN_L)
txt([120.9], [-0.10], ["deep Pac"], "ben", size="14px", color=GREEN_L)


# legend (renderers hold no visible point)
def leg_pair(color, face):
    ln = p.line([np.nan], [np.nan], line_color=color, line_width=1.5)
    mk = p.scatter([np.nan], [np.nan], size=5, fill_color=face, line_color="black", line_width=0.7)
    return [ln, mk]


legend = Legend(items=[LegendItem(label="EDC", renderers=leg_pair(BLUE, BLUE_F)),
                       LegendItem(label="Talos", renderers=leg_pair(RED, RED_F)),
                       LegendItem(label="NGRIP", renderers=leg_pair(MAGENTA, MAGENTA)),
                       LegendItem(label="EDML", renderers=leg_pair(GREEN_L, GREEN_F)),
                       LegendItem(label="Siple", renderers=leg_pair(ORANGE, ORANGE))],
                location=(462, 327), orientation="vertical", nrows=3,
                label_text_font=FONT, label_text_font_size="13px",
                glyph_width=28, glyph_height=17, label_height=17, label_standoff=11,
                label_width=50, spacing=2, padding=4, margin=0,
                border_line_color="black", border_line_width=1.5,
                background_fill_color="white", background_fill_alpha=1.0)
p.add_layout(legend)

layout = column(t, row(ls, p, rs))
open("out.html", "w").write(file_html(layout, INLINE))
